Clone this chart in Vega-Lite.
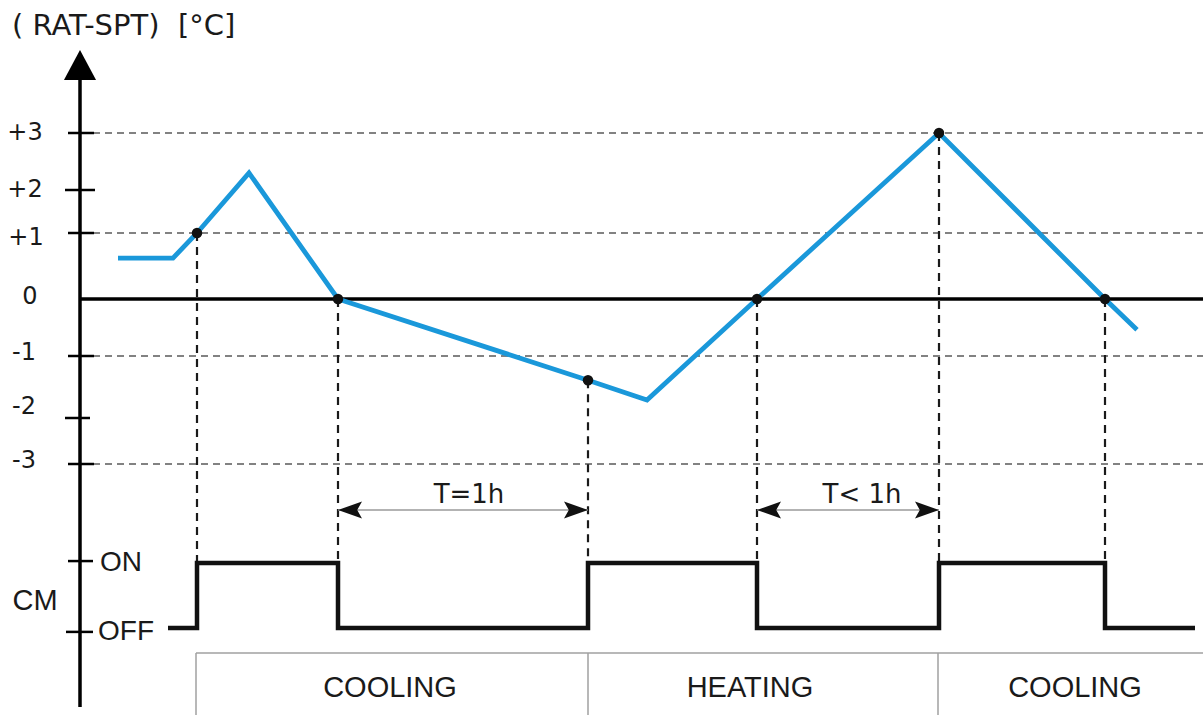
{
  "$schema": "https://vega.github.io/schema/vega-lite/v6.json",
  "width": 1203,
  "height": 715,
  "autosize": {"type": "none"},
  "padding": 0,
  "background": "white",
  "config": {"view": {"stroke": null}},
  "datasets": {
    "grid": [
      {"t": 3.12, "t2": 269.52, "y": 3, "y2": 3},
      {"t": 3.12, "t2": 269.52, "y": 1, "y2": 1},
      {"t": 3.12, "t2": 269.52, "y": -1, "y2": -1},
      {"t": 3.12, "t2": 269.52, "y": -3, "y2": -3}
    ],
    "solid": [
      {"t": 0, "t2": 269.52, "y": 0, "y2": 0},
      {"t": 0, "t2": 0, "y": 3.93, "y2": -8.283}
    ],
    "ticks": [
      {"t": -2.88, "t2": 3.36, "y": 3, "y2": 3},
      {"t": -3.6, "t2": 3.6, "y": 2, "y2": 2},
      {"t": -2.88, "t2": 3.36, "y": 1, "y2": 1},
      {"t": -2.88, "t2": 3.36, "y": -1, "y2": -1},
      {"t": -3.6, "t2": 2.4, "y": -2, "y2": -2},
      {"t": -2.88, "t2": 3.36, "y": -3, "y2": -3},
      {"t": -2.88, "t2": 3.12, "y": -5.11, "y2": -5.11},
      {"t": -3.36, "t2": 3.12, "y": -6.65, "y2": -6.65}
    ],
    "arrowTip": [{"t": 0, "y": 4.456}],
    "temp": [
      {"t": 9.12, "y": 0.62},
      {"t": 22.32, "y": 0.62},
      {"t": 28.08, "y": 1},
      {"t": 40.56, "y": 2.3},
      {"t": 61.92, "y": 0},
      {"t": 121.92, "y": -1.39},
      {"t": 136.08, "y": -1.71},
      {"t": 162.48, "y": 0},
      {"t": 206.16, "y": 3},
      {"t": 246, "y": 0},
      {"t": 253.68, "y": -0.54}
    ],
    "dots": [
      {"t": 28.08, "y": 1},
      {"t": 61.92, "y": 0},
      {"t": 121.92, "y": -1.39},
      {"t": 162.48, "y": 0},
      {"t": 206.16, "y": 3},
      {"t": 246, "y": 0}
    ],
    "drops": [
      {"t": 28.08, "t2": 28.08, "y": 1, "y2": -5.13},
      {"t": 61.92, "t2": 61.92, "y": 0, "y2": -5.13},
      {"t": 121.92, "t2": 121.92, "y": -1.39, "y2": -5.13},
      {"t": 162.48, "t2": 162.48, "y": 0, "y2": -5.13},
      {"t": 206.16, "t2": 206.16, "y": 3, "y2": -5.13},
      {"t": 246, "t2": 246, "y": 0, "y2": -5.13}
    ],
    "cm": [
      {"t": 21.12, "y": -6.565},
      {"t": 28.08, "y": -5.15},
      {"t": 61.92, "y": -6.565},
      {"t": 121.92, "y": -5.15},
      {"t": 162.48, "y": -6.565},
      {"t": 206.16, "y": -5.15},
      {"t": 246, "y": -6.565},
      {"t": 267.6, "y": -6.565}
    ],
    "spans": [
      {"t": 61.92, "t2": 121.92, "y": -4, "y2": -4},
      {"t": 162.48, "t2": 206.16, "y": -4, "y2": -4}
    ],
    "heads": [
      {"t": 61.92, "y": -4, "dir": "left"},
      {"t": 121.92, "y": -4, "dir": "right"},
      {"t": 162.48, "y": -4, "dir": "left"},
      {"t": 206.16, "y": -4, "dir": "right"}
    ],
    "boxes": [
      {"t": 27.84, "t2": 269.52, "y": -7.109, "y2": -7.109},
      {"t": 27.84, "t2": 27.84, "y": -7.109, "y2": -8.6},
      {"t": 121.92, "t2": 121.92, "y": -7.109, "y2": -8.6},
      {"t": 205.92, "t2": 205.92, "y": -7.109, "y2": -8.6}
    ],
    "tickLabels": [
      {"t": -13.2, "y": 3, "text": "+3"},
      {"t": -13.2, "y": 2, "text": "+2"},
      {"t": -12.96, "y": 0.924, "text": "+1"},
      {"t": -12, "y": 0.03, "text": "0"},
      {"t": -13.44, "y": -0.947, "text": "-1"},
      {"t": -13.44, "y": -1.823, "text": "-2"},
      {"t": -13.44, "y": -2.935, "text": "-3"}
    ],
    "spanLabels": [
      {"t": 93.36, "y": -3.674, "text": "T=1h"},
      {"t": 187.68, "y": -3.674, "text": "T< 1h"}
    ],
    "centerLabels": [
      {"t": -10.8, "y": -5.97, "text": "CM"},
      {"t": 74.4, "y": -7.87, "text": "COOLING"},
      {"t": 160.8, "y": -7.87, "text": "HEATING"},
      {"t": 238.8, "y": -7.87, "text": "COOLING"}
    ],
    "leftLabels": [
      {"t": 4.8, "y": -5.15, "text": "ON"},
      {"t": 4.32, "y": -6.646, "text": "OFF"}
    ],
    "title": [
      {"t": -16.32, "y": 4.877, "text": "( RAT-SPT)\u00a0 [°C]"}
    ]
  },
  "encoding": {
    "x": {"field": "t", "type": "quantitative", "scale": {"domain": [-19.2, 269.52], "nice": false, "zero": false}, "axis": null},
    "y": {"field": "y", "type": "quantitative", "scale": {"domain": [-3, -2, -1, 0, 1, 2, 3], "range": [464, 418, 356, 299, 233, 190, 133], "nice": false, "zero": false}, "axis": null}
  },
  "layer": [
    {
      "data": {"name": "grid"},
      "mark": {"type": "rule", "color": "#5a5a5a", "strokeWidth": 1.5, "strokeDash": [7, 5]},
      "encoding": {"x2": {"field": "t2"}, "y2": {"field": "y2"}}
    },
    {
      "data": {"name": "boxes"},
      "mark": {"type": "rule", "color": "#a0a0a0", "strokeWidth": 1.5},
      "encoding": {"x2": {"field": "t2"}, "y2": {"field": "y2"}}
    },
    {
      "data": {"name": "drops"},
      "mark": {"type": "rule", "color": "#1a1a1a", "strokeWidth": 2.2, "strokeDash": [8, 6]},
      "encoding": {"x2": {"field": "t2"}, "y2": {"field": "y2"}}
    },
    {
      "data": {"name": "spans"},
      "mark": {"type": "rule", "color": "#9a9a9a", "strokeWidth": 1.5},
      "encoding": {"x2": {"field": "t2"}, "y2": {"field": "y2"}}
    },
    {
      "data": {"name": "heads"},
      "mark": {"type": "point", "filled": true, "color": "#111111", "opacity": 1, "size": 576},
      "encoding": {
        "shape": {"field": "dir", "type": "nominal", "scale": {"domain": ["left", "right"], "range": ["M0,0L2,-0.7L1.6,0L2,0.7Z", "M0,0L-2,-0.7L-1.6,0L-2,0.7Z"]}, "legend": null}
      }
    },
    {
      "data": {"name": "solid"},
      "mark": {"type": "rule", "color": "#000000", "strokeWidth": 3.5},
      "encoding": {"x2": {"field": "t2"}, "y2": {"field": "y2"}}
    },
    {
      "data": {"name": "ticks"},
      "mark": {"type": "rule", "color": "#000000", "strokeWidth": 2.5},
      "encoding": {"x2": {"field": "t2"}, "y2": {"field": "y2"}}
    },
    {
      "data": {"name": "arrowTip"},
      "mark": {"type": "point", "filled": true, "color": "#000000", "opacity": 1, "size": 900, "shape": "M0,0L1.07,2L-1.07,2Z"}
    },
    {
      "data": {"name": "cm"},
      "mark": {"type": "line", "color": "#111111", "strokeWidth": 4.5, "interpolate": "step-after"}
    },
    {
      "data": {"name": "temp"},
      "mark": {"type": "line", "color": "#1a98da", "strokeWidth": 4.8}
    },
    {
      "data": {"name": "dots"},
      "mark": {"type": "point", "filled": true, "color": "#111111", "opacity": 1, "size": 110, "shape": "circle"}
    },
    {
      "data": {"name": "tickLabels"},
      "mark": {"type": "text", "font": "DejaVu Sans", "fontSize": 24, "color": "#1a1a1a", "align": "center", "baseline": "middle"},
      "encoding": {"text": {"field": "text"}}
    },
    {
      "data": {"name": "spanLabels"},
      "mark": {"type": "text", "font": "DejaVu Sans", "fontSize": 26, "color": "#1a1a1a", "align": "center", "baseline": "middle"},
      "encoding": {"text": {"field": "text"}}
    },
    {
      "data": {"name": "centerLabels"},
      "mark": {"type": "text", "font": "Liberation Sans", "fontSize": 29, "color": "#1a1a1a", "align": "center", "baseline": "middle"},
      "encoding": {"text": {"field": "text"}}
    },
    {
      "data": {"name": "leftLabels"},
      "mark": {"type": "text", "font": "Liberation Sans", "fontSize": 28, "color": "#1a1a1a", "align": "left", "baseline": "middle"},
      "encoding": {"text": {"field": "text"}}
    },
    {
      "data": {"name": "title"},
      "mark": {"type": "text", "font": "DejaVu Sans", "fontSize": 29, "color": "#1a1a1a", "align": "left", "baseline": "middle"},
      "encoding": {"text": {"field": "text"}}
    }
  ]
}
